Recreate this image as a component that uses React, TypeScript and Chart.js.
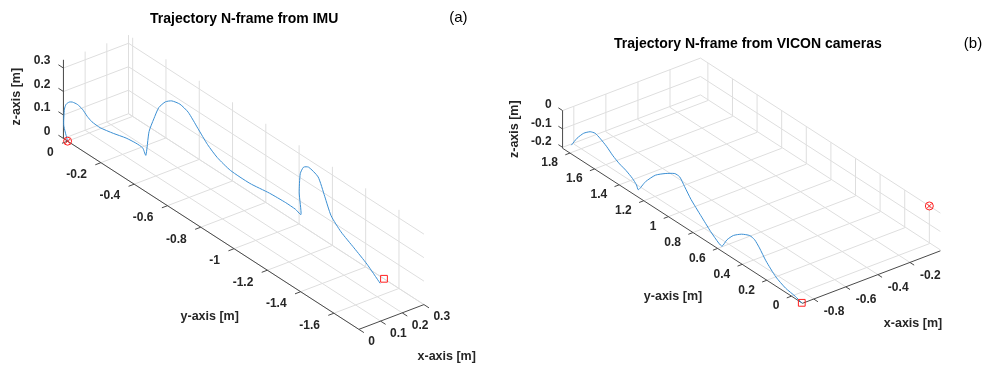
import React, { useEffect, useRef } from "react";
import { Chart, registerables } from "chart.js";

Chart.register(...registerables);

// ---------------- DATA (metres) ----------------
// (a) IMU trajectory in N-frame
const imuX = [0, 0, 0, 0, 0.002, 0.006, 0.012, 0.019, 0.025, 0.031, 0.041, 0.058, 0.074, 0.086, 0.095, 0.099, 0.103, 0.109, 0.115, 0.124, 0.132, 0.142, 0.15, 0.157, 0.165, 0.172, 0.183, 0.198, 0.213, 0.226, 0.233, 0.238, 0.236, 0.237, 0.24, 0.244, 0.251, 0.256, 0.261, 0.269, 0.279, 0.289, 0.3];
const imuY = [0, 0.023, 0.019, 0.009, -0.007, -0.021, -0.043, -0.064, -0.085, -0.106, -0.142, -0.199, -0.255, -0.298, -0.327, -0.341, -0.355, -0.376, -0.398, -0.426, -0.454, -0.49, -0.529, -0.578, -0.626, -0.675, -0.74, -0.837, -0.935, -1.016, -1.065, -1.092, -1.084, -1.089, -1.105, -1.13, -1.178, -1.211, -1.243, -1.292, -1.357, -1.422, -1.487];
const imuZ = [0, 0.057, 0.128, 0.153, 0.169, 0.174, 0.172, 0.159, 0.136, 0.12, 0.108, 0.104, 0.104, 0.098, 0.088, 0.061, 0.167, 0.229, 0.285, 0.319, 0.333, 0.332, 0.313, 0.264, 0.214, 0.179, 0.15, 0.134, 0.132, 0.124, 0.116, 0.104, 0.193, 0.277, 0.311, 0.321, 0.299, 0.23, 0.16, 0.111, 0.069, 0.026, -0.03];
const imuStart = [0, 0, 0];
const imuEnd = [0.3, -1.51, 0];
const imuXLim = [0, 0.3];
const imuYLim = [-1.75, 0.025];
const imuZLim = [0, 0.335];
const imuXTicks = [0, 0.1, 0.2, 0.3];
const imuYTicks = [0, -0.2, -0.4, -0.6, -0.8, -1, -1.2, -1.4, -1.6];
const imuZTicks = [0, 0.1, 0.2, 0.3];

// (b) VICON trajectory in N-frame
const viconX = [-0.817, -0.818, -0.819, -0.82, -0.821, -0.821, -0.822, -0.822, -0.824, -0.824, -0.826, -0.826, -0.827, -0.815, -0.805, -0.8, -0.8, -0.8, -0.805, -0.81, -0.815, -0.825, -0.835, -0.839, -0.835, -0.83, -0.83, -0.83, -0.835, -0.84, -0.845, -0.85, -0.858, -0.865, -0.87];
const viconY = [1.858, 1.81, 1.755, 1.701, 1.659, 1.62, 1.566, 1.513, 1.457, 1.405, 1.349, 1.317, 1.3, 1.258, 1.191, 1.118, 1.039, 0.999, 0.953, 0.894, 0.808, 0.715, 0.637, 0.604, 0.57, 0.524, 0.457, 0.391, 0.345, 0.299, 0.24, 0.153, 0.063, -0.025, -0.084];
const viconZ = [-0.205, -0.146, -0.095, -0.063, -0.053, -0.063, -0.083, -0.112, -0.131, -0.144, -0.163, -0.184, -0.203, -0.145, -0.084, -0.045, -0.011, -0.012, -0.043, -0.086, -0.135, -0.178, -0.203, -0.205, -0.157, -0.115, -0.079, -0.058, -0.059, -0.082, -0.125, -0.173, -0.193, -0.197, -0.205];
const viconStart = [-0.01, 0, 0];
const viconEnd = [-0.87, -0.084, -0.205];
const viconXLim = [-0.87, -0.01];
const viconYLim = [-0.09, 1.86];
const viconZLim = [-0.205, 0];
const viconXTicks = [-0.8, -0.6, -0.4, -0.2];
const viconYTicks = [0, 0.2, 0.4, 0.6, 0.8, 1, 1.2, 1.4, 1.6, 1.8];
const viconZTicks = [-0.2, -0.1, 0];

// ---------------- VIEW (MATLAB default az=-37.5, el=30) ----------------
const AZ = (37.5 * Math.PI) / 180;
const EL = (30 * Math.PI) / 180;

function project(x: number, y: number, z: number, zk: number) {
  const h = x * Math.cos(AZ) - y * Math.sin(AZ);
  const v = (x * Math.sin(AZ) + y * Math.cos(AZ)) * Math.sin(EL) + z * zk * Math.cos(EL);
  return { x: h, y: v };
}

type PanelCfg = {
  left: number; width: number; height: number; s: number; ox: number; oy: number; zk: number;
  xs: number[]; ys: number[]; zs: number[]; start: number[]; end: number[];
  xLim: number[]; yLim: number[]; zLim: number[];
  xTicks: number[]; yTicks: number[]; zTicks: number[];
  title: string; titlePos: number[]; tag: string; tagPos: number[];
  zLabelPos: number[]; yLabelPos: number[]; xLabelPos: number[];
  yTickOff: number[]; xTickOff: number[]; zTickOff: number[]; tickLen: number;
};

const panelA: PanelCfg = {
  left: 0, width: 492, height: 365, s: 280, ox: 63.3, oy: 139.8, zk: 1,
  xs: imuX, ys: imuY, zs: imuZ, start: imuStart, end: imuEnd,
  xLim: imuXLim, yLim: imuYLim, zLim: imuZLim,
  xTicks: imuXTicks, yTicks: imuYTicks, zTicks: imuZTicks,
  title: "Trajectory N-frame from IMU", titlePos: [244.2, 23], tag: "(a)", tagPos: [458.3, 22],
  zLabelPos: [16.7, 96.7], yLabelPos: [209.7, 316.5], xLabelPos: [446.7, 357],
  yTickOff: [-14, 12], xTickOff: [9.5, 12.5], zTickOff: [-13, -7], tickLen: 6,
};

const panelB: PanelCfg = {
  left: 492, width: 492, height: 365, s: 207, ox: 443.6, oy: 206.1, zk: 1.06,
  xs: viconX, ys: viconY, zs: viconZ, start: viconStart, end: viconEnd,
  xLim: viconXLim, yLim: viconYLim, zLim: viconZLim,
  xTicks: viconXTicks, yTicks: viconYTicks, zTicks: viconZTicks,
  title: "Trajectory N-frame from VICON cameras", titlePos: [255.9, 48], tag: "(b)", tagPos: [481, 48],
  zLabelPos: [23, 129.2], yLabelPos: [181, 296.7], xLabelPos: [421, 323.3],
  yTickOff: [-12, 10], xTickOff: [10, 13], zTickOff: [-11, -5.6], tickLen: 5,
};

const FONT = '"Liberation Sans", Arial, Helvetica, sans-serif';

function makePlugin(cfg: PanelCfg) {
  const P = (chart: any, x: number, y: number, z: number) => {
    const q = project(x, y, z, cfg.zk);
    return [chart.scales.x.getPixelForValue(q.x), chart.scales.y.getPixelForValue(q.y)];
  };
  const line = (ctx: CanvasRenderingContext2D, a: number[], b: number[]) => {
    ctx.beginPath();
    ctx.moveTo(a[0], a[1]);
    ctx.lineTo(b[0], b[1]);
    ctx.stroke();
  };
  const tickEnd = (chart: any, p: number[], d: number[], len: number) => {
    const a = P(chart, p[0], p[1], p[2]);
    const b = P(chart, p[0] + d[0] * 0.1, p[1] + d[1] * 0.1, p[2] + d[2] * 0.1);
    const dx = b[0] - a[0], dy = b[1] - a[1];
    const n = Math.hypot(dx, dy) || 1;
    return [a, [a[0] + (dx / n) * len, a[1] + (dy / n) * len]];
  };
  return {
    id: "box3d",
    beforeDatasetsDraw(chart: any) {
      const ctx: CanvasRenderingContext2D = chart.ctx;
      const [x0, x1] = cfg.xLim, [y0, y1] = cfg.yLim, [z0, z1] = cfg.zLim;
      ctx.save();
      ctx.strokeStyle = "#dedede";
      ctx.lineWidth = 1;
      // floor grid
      cfg.xTicks.forEach((t) => line(ctx, P(chart, t, y0, z0), P(chart, t, y1, z0)));
      cfg.yTicks.forEach((t) => line(ctx, P(chart, x0, t, z0), P(chart, x1, t, z0)));
      // back wall x = xmax
      cfg.yTicks.forEach((t) => line(ctx, P(chart, x1, t, z0), P(chart, x1, t, z1)));
      cfg.zTicks.forEach((t) => line(ctx, P(chart, x1, y0, t), P(chart, x1, y1, t)));
      // back wall y = ymax
      cfg.xTicks.forEach((t) => line(ctx, P(chart, t, y1, z0), P(chart, t, y1, z1)));
      cfg.zTicks.forEach((t) => line(ctx, P(chart, x0, y1, t), P(chart, x1, y1, t)));
      // axis lines
      ctx.strokeStyle = "#4a4a4a";
      line(ctx, P(chart, x0, y1, z0), P(chart, x0, y0, z0)); // y axis
      line(ctx, P(chart, x0, y0, z0), P(chart, x1, y0, z0)); // x axis
      line(ctx, P(chart, x0, y1, z0), P(chart, x0, y1, z1)); // z axis
      // tick marks
      cfg.yTicks.forEach((t) => { const [a, b] = tickEnd(chart, [x0, t, z0], [-1, 0, 0], cfg.tickLen); line(ctx, a, b); });
      cfg.xTicks.forEach((t) => { const [a, b] = tickEnd(chart, [t, y0, z0], [0, -1, 0], cfg.tickLen); line(ctx, a, b); });
      cfg.zTicks.forEach((t) => { const [a, b] = tickEnd(chart, [x0, y1, t], [0, 1, 0], cfg.tickLen); line(ctx, a, b); });
      ctx.restore();
    },
    afterDraw(chart: any) {
      const ctx: CanvasRenderingContext2D = chart.ctx;
      const [x0] = cfg.xLim, [y0, y1] = cfg.yLim, [z0] = cfg.zLim;
      ctx.save();
      ctx.fillStyle = "#262626";
      ctx.font = `bold 12px ${FONT}`;
      ctx.textBaseline = "middle";
      ctx.textAlign = "right";
      cfg.yTicks.forEach((t) => {
        const p = P(chart, x0, t, z0);
        ctx.fillText(String(t), p[0] + cfg.yTickOff[0], p[1] + cfg.yTickOff[1]);
      });
      cfg.zTicks.forEach((t) => {
        const p = P(chart, x0, y1, t);
        ctx.fillText(String(t), p[0] + cfg.zTickOff[0], p[1] + cfg.zTickOff[1]);
      });
      ctx.textAlign = "left";
      cfg.xTicks.forEach((t) => {
        const p = P(chart, t, y0, z0);
        ctx.fillText(String(t), p[0] + cfg.xTickOff[0], p[1] + cfg.xTickOff[1]);
      });
      // axis labels
      ctx.font = `bold 12.5px ${FONT}`;
      ctx.textAlign = "center";
      ctx.fillText("y-axis [m]", cfg.yLabelPos[0], cfg.yLabelPos[1]);
      ctx.fillText("x-axis [m]", cfg.xLabelPos[0], cfg.xLabelPos[1]);
      ctx.save();
      ctx.translate(cfg.zLabelPos[0], cfg.zLabelPos[1]);
      ctx.rotate(-Math.PI / 2);
      ctx.fillText("z-axis [m]", 0, 0);
      ctx.restore();
      // title & tag
      ctx.fillStyle = "#000";
      ctx.textBaseline = "alphabetic";
      ctx.font = `bold 14px ${FONT}`;
      ctx.fillText(cfg.title, cfg.titlePos[0], cfg.titlePos[1]);
      ctx.font = `15px ${FONT}`;
      ctx.fillText(cfg.tag, cfg.tagPos[0], cfg.tagPos[1]);
      ctx.restore();
    },
  };
}

function Panel({ cfg }: { cfg: PanelCfg }) {
  const ref = useRef<HTMLCanvasElement>(null);
  useEffect(() => {
    if (!ref.current) return;
    const traj = cfg.xs.map((x, i) => project(x, cfg.ys[i], cfg.zs[i], cfg.zk));
    const st = project(cfg.start[0], cfg.start[1], cfg.start[2], cfg.zk);
    const en = project(cfg.end[0], cfg.end[1], cfg.end[2], cfg.zk);
    const hmin = -cfg.ox / cfg.s;
    const vmax = cfg.oy / cfg.s;
    const chart = new Chart(ref.current, {
      type: "scatter",
      data: {
        datasets: [
          { data: [st], pointStyle: "circle", pointRadius: 4, borderColor: "#ff2020", backgroundColor: "rgba(0,0,0,0)", borderWidth: 1 } as any,
          { data: [st], pointStyle: "crossRot", pointRadius: 3.6, borderColor: "#ff2020", borderWidth: 1 } as any,
          { data: [en], pointStyle: "rect", pointRadius: 4.8, borderColor: "#ff2020", backgroundColor: "rgba(0,0,0,0)", borderWidth: 1 } as any,
          { data: traj, showLine: true, borderColor: "#3b8fd3", borderWidth: 1, pointRadius: 0, tension: 0.2, fill: false } as any,
        ],
      },
      options: {
        animation: false,
        responsive: false,
        devicePixelRatio: 1,
        events: [],
        layout: { padding: 0 },
        plugins: { legend: { display: false }, tooltip: { enabled: false }, title: { display: false } },
        scales: {
          x: { type: "linear", display: false, min: hmin, max: hmin + cfg.width / cfg.s },
          y: { type: "linear", display: false, min: vmax - cfg.height / cfg.s, max: vmax },
        },
      } as any,
      plugins: [makePlugin(cfg)],
    });
    return () => chart.destroy();
  }, [cfg]);
  return (
    <canvas
      ref={ref}
      width={cfg.width}
      height={cfg.height}
      style={{ position: "absolute", left: cfg.left, top: 0, width: cfg.width, height: cfg.height, display: "block" }}
    />
  );
}

export default function App() {
  return (
    <div style={{ position: "fixed", left: 0, top: 0, width: 984, height: 365, background: "#fff" }}>
      <Panel cfg={panelA} />
      <Panel cfg={panelB} />
    </div>
  );
}
